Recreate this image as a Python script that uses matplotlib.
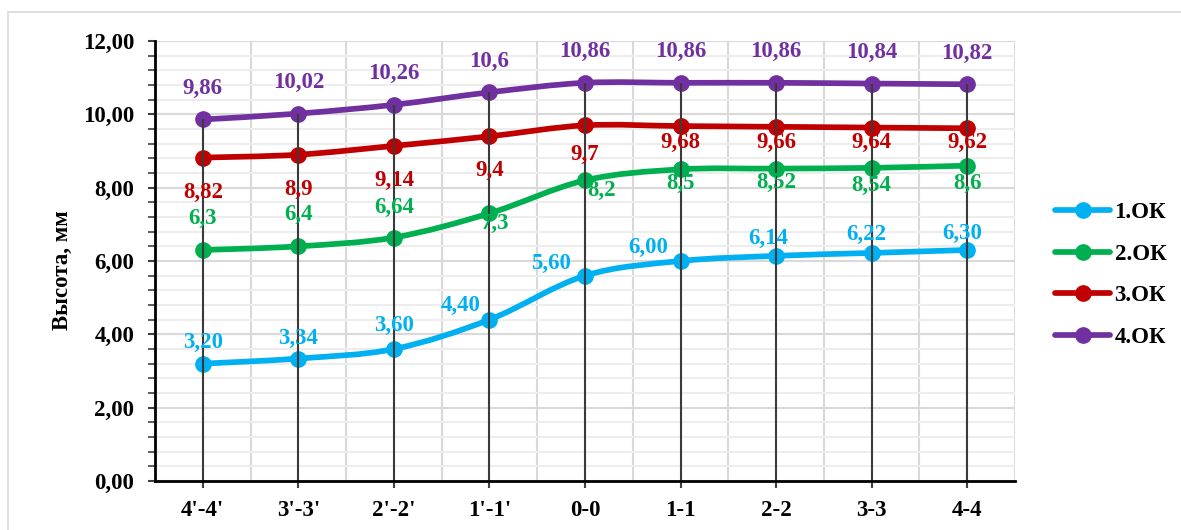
import matplotlib
matplotlib.use("Agg")
import matplotlib.pyplot as plt
from matplotlib.path import Path
from matplotlib.patches import PathPatch, Rectangle
from matplotlib.lines import Line2D
from matplotlib.ticker import MultipleLocator, FuncFormatter
import numpy as np

plt.rcParams['font.family'] = ['Liberation Serif', 'DejaVu Serif']
plt.rcParams['font.weight'] = 'bold'

# Sections along the profile
categories = ["4'-4'", "3'-3'", "2'-2'", "1'-1'", "0-0", "1-1", "2-2", "3-3", "4-4"]

# Heights, mm
ok1 = [3.20, 3.34, 3.60, 4.40, 5.60, 6.00, 6.14, 6.22, 6.30]
ok2 = [6.3, 6.4, 6.64, 7.3, 8.2, 8.5, 8.52, 8.54, 8.6]
ok3 = [8.82, 8.9, 9.14, 9.4, 9.7, 9.68, 9.66, 9.64, 9.62]
ok4 = [9.86, 10.02, 10.26, 10.6, 10.86, 10.86, 10.86, 10.84, 10.82]

series_names = ["1.ОК", "2.ОК", "3.ОК", "4.ОК"]
series_values = [ok1, ok2, ok3, ok4]
colors = ["#00B0F0", "#00B050", "#C00000", "#7030A0"]

# Label placement (pixel offsets from the point: dx right, dy down)
label_offsets = [
    [(0, -21), (0, -20), (0, -24), (-29, -14), (-34, -12), (-32, -14), (-8, -17), (-5, -18), (-5, -17)],
    [(0, -32), (0, -32), (0, -30), (6, 10), (17, 10), (0, 14), (0, 14), (0, 18), (0, 18)],
    [(0, 35), (0, 35), (0, 35), (0, 34), (0, 29), (0, 16), (0, 16), (0, 15), (0, 14)],
    [(0, -31)] * 9,
]

FS = 16.5


def fmt_label(v, idx):
    if idx == 0:
        return f"{v:.2f}".replace('.', ',')
    return f"{v:g}".replace('.', ',')


def smooth_path(xs, ys):
    """Cubic Bezier path through the points (Catmull-Rom style smoothing)."""
    pts = np.column_stack([xs, ys]).astype(float)
    n = len(pts)
    verts = [pts[0]]
    codes = [Path.MOVETO]
    for i in range(n - 1):
        p0 = pts[i - 1] if i > 0 else pts[i]
        p1 = pts[i]
        p2 = pts[i + 1]
        p3 = pts[i + 2] if i + 2 < n else pts[i + 1]
        c1 = p1 + (p2 - p0) / 6.0
        c2 = p2 - (p3 - p1) / 6.0
        verts += [c1, c2, p2]
        codes += [Path.CURVE4] * 3
    return Path(verts, codes)


W, H = 1181, 530
fig = plt.figure(figsize=(W / 100, H / 100), dpi=100)

# outer chart frame
fig.patches.append(Rectangle((8 / W, -0.05), 1.2, (530 - 12) / H + 0.05,
                             transform=fig.transFigure, fill=False,
                             edgecolor="#D9D9D9", lw=1.2, zorder=0))

ax = fig.add_axes([155 / W, (530 - 481) / H, (1015 - 155) / W, (481 - 41) / H])

x = np.arange(len(categories))
ax.set_xlim(-0.5, len(categories) - 0.5)
ax.set_ylim(0, 12)

# grid
ax.yaxis.set_major_locator(MultipleLocator(2))
ax.yaxis.set_minor_locator(MultipleLocator(0.4))
ax.grid(which='major', axis='y', color="#D9D9D9", lw=1.5, zorder=0)
ax.grid(which='minor', axis='y', color="#EDEDED", lw=1.5, zorder=0)
for b in np.arange(0.5, len(categories), 1.0):
    ax.axvline(b, color="#D9D9D9", lw=1.5, zorder=0)

# drop lines at each section
top = np.max(np.array(series_values), axis=0)
ax.vlines(x, 0, top, colors="#3A3A3A", lw=1.5, zorder=6)

for idx, (name, vals, col) in enumerate(zip(series_names, series_values, colors)):
    ax.add_patch(PathPatch(smooth_path(x, vals), fill=False, edgecolor=col,
                           lw=4.1, capstyle='round', joinstyle='round', zorder=3))
    ax.plot(x, vals, 'o', color=col, ms=11, zorder=4)
    for xi, v, (dx, dy) in zip(x, vals, label_offsets[idx]):
        ax.annotate(fmt_label(v, idx), (xi, v), xytext=(dx * 0.72, -dy * 0.72),
                    textcoords='offset points', ha='center', va='center',
                    fontsize=FS, fontweight='bold', color=col, zorder=7)

ax.set_xticks(x)
ax.set_xticklabels(categories)
ax.yaxis.set_major_formatter(FuncFormatter(lambda v, p: f"{v:.2f}".replace('.', ',')))

for s in ['top', 'right']:
    ax.spines[s].set_visible(False)
for s in ['left', 'bottom']:
    ax.spines[s].set_color('black')
    ax.spines[s].set_linewidth(2.0)
    ax.spines[s].set_zorder(8)

ax.tick_params(axis='y', which='major', direction='out', length=5, width=1.5,
               color='#404040', pad=10, labelsize=FS)
ax.tick_params(axis='y', which='minor', direction='out', length=5, width=1.2,
               color='#404040')
ax.tick_params(axis='x', which='major', direction='out', length=5, width=1.5,
               color='#404040', pad=9, labelsize=FS)
for lab in ax.get_xticklabels() + ax.get_yticklabels():
    lab.set_fontweight('bold')

fig.text(62 / W, 0.49, "Высота, мм", rotation=90, ha='center', va='center',
         fontsize=FS, fontweight='bold')

handles = [Line2D([0], [0], color=c, lw=4.1, marker='o', ms=11,
                  solid_capstyle='round') for c in colors]
leg = fig.legend(handles, series_names, loc='center left',
                 bbox_to_anchor=(1055 / W, (530 - 275) / H), frameon=False,
                 prop={'family': 'Liberation Serif', 'weight': 'bold', 'size': FS},
                 handlelength=2.4, handletextpad=0.2, labelspacing=0.9,
                 borderaxespad=0, borderpad=0)

fig.savefig("out.png", dpi=100)
